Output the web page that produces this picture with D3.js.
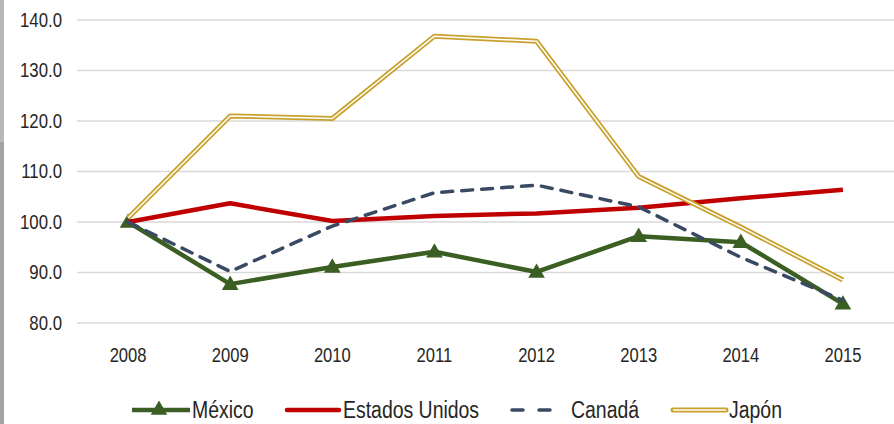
<!DOCTYPE html>
<html lang="es">
  <head>
    <meta charset="UTF-8" />
    <title>Indice 2008-2015</title>
    <script src="https://d3js.org/d3.v7.min.js"></script>
    <style>
      body { margin: 0; background: #fff; }
      svg { display: block; }
      text { font-family: "Liberation Sans", Arial, sans-serif; fill: #262626; }
    </style>
  </head>
  <body>
    <div id="chart"></div>

  <script>
    // data (2008 = 100)
    const years = ["2008", "2009", "2010", "2011", "2012", "2013", "2014", "2015"];
    const mexico = [100.0, 87.7, 91.1, 94.1, 90.1, 97.2, 96.0, 83.8];
    const usa = [100.0, 103.7, 100.2, 101.2, 101.7, 102.8, 104.7, 106.4];
    const canada = [100.0, 90.2, 99.2, 105.8, 107.3, 103.0, 93.0, 84.5];
    const japon = [100.8, 121.0, 120.5, 136.8, 135.8, 109.0, 99.0, 88.5];
    const yTicks = [80, 90, 100, 110, 120, 130, 140];

    const W = 894, H = 424;

    const svg = d3.select("#chart")
      .append("svg")
      .attr("width", W)
      .attr("height", H);

    // grey strip on the left edge
    svg.append("rect").attr("x", 0).attr("y", 0).attr("width", 4).attr("height", 142).attr("fill", "#b8b8b8");
    svg.append("rect").attr("x", 0).attr("y", 142).attr("width", 4).attr("height", H - 142).attr("fill", "#a3a3a3");

    const x = d3.scaleBand().domain(years).range([77, 894]);
    const y = d3.scaleLinear().domain([80, 140]).range([323, 20]);
    const cx = d => x(d) + x.bandwidth() / 2;

    // text is squeezed horizontally to look like the narrow face of the original
    function place(tx, ty, k) {
      return "translate(" + tx + "," + ty + ") scale(" + k + ",1)";
    }

    // gridlines
    svg.append("g")
      .selectAll("line")
      .data(yTicks)
      .join("line")
      .attr("x1", 77)
      .attr("x2", 894)
      .attr("y1", d => y(d))
      .attr("y2", d => y(d))
      .attr("stroke", "#d9d9d9")
      .attr("stroke-width", 1.5);

    // y labels
    svg.append("g")
      .selectAll("text")
      .data(yTicks)
      .join("text")
      .attr("transform", d => place(62, y(d) + 6.5, 0.84))
      .attr("text-anchor", "end")
      .style("font-size", "20px")
      .text(d => d.toFixed(1));

    // x labels
    svg.append("g")
      .selectAll("text")
      .data(years)
      .join("text")
      .attr("transform", d => place(cx(d), 362, 0.79))
      .attr("text-anchor", "middle")
      .style("font-size", "21px")
      .text(d => d);

    function series(vals) {
      return years.map((yr, i) => [yr, vals[i]]);
    }

    const line = d3.line()
      .x(d => cx(d[0]))
      .y(d => y(d[1]));

    const tri = d3.symbol().type(d3.symbolTriangle).size(120);

    // Mexico
    svg.append("path")
      .datum(series(mexico))
      .attr("d", line)
      .attr("fill", "none")
      .attr("stroke", "#3b5e22")
      .attr("stroke-width", 4.5)
      .attr("stroke-linejoin", "round");

    svg.append("g")
      .selectAll("path")
      .data(series(mexico))
      .join("path")
      .attr("d", tri)
      .attr("transform", d => "translate(" + cx(d[0]) + "," + (y(d[1]) + 1) + ")")
      .attr("fill", "#3b5e22");

    // Estados Unidos
    svg.append("path")
      .datum(series(usa))
      .attr("d", line)
      .attr("fill", "none")
      .attr("stroke", "#c00000")
      .attr("stroke-width", 4.5)
      .attr("stroke-linejoin", "round");

    // Canada
    svg.append("path")
      .datum(series(canada))
      .attr("d", line)
      .attr("fill", "none")
      .attr("stroke", "#3a4a63")
      .attr("stroke-width", 3.5)
      .attr("stroke-dasharray", "11,9")
      .attr("stroke-linecap", "round")
      .attr("stroke-linejoin", "round");

    // Japon: double line
    svg.append("path")
      .datum(series(japon))
      .attr("d", line)
      .attr("fill", "none")
      .attr("stroke", "#c9a12c")
      .attr("stroke-width", 5)
      .attr("stroke-linejoin", "round");
    svg.append("path")
      .datum(series(japon))
      .attr("d", line)
      .attr("fill", "none")
      .attr("stroke", "#fff")
      .attr("stroke-width", 1.5)
      .attr("stroke-linejoin", "round");

    // legend
    const ly = 410;
    const tb = 418; // legend text baseline
    const lk = 0.81;
    const leg = svg.append("g");

    leg.append("line").attr("x1", 132).attr("x2", 190).attr("y1", ly).attr("y2", ly)
      .attr("stroke", "#3b5e22").attr("stroke-width", 4.5);
    leg.append("path").attr("d", tri).attr("transform", "translate(159," + ly + ")").attr("fill", "#3b5e22");
    leg.append("text").attr("transform", place(192, tb, lk)).style("font-size", "24px").text("México");

    leg.append("line").attr("x1", 287).attr("x2", 339).attr("y1", ly).attr("y2", ly)
      .attr("stroke", "#c00000").attr("stroke-width", 4.5).attr("stroke-linecap", "round");
    leg.append("text").attr("transform", place(343, tb, lk)).style("font-size", "24px").text("Estados Unidos");

    leg.append("line").attr("x1", 512).attr("x2", 553).attr("y1", ly).attr("y2", ly)
      .attr("stroke", "#3a4a63").attr("stroke-width", 3.5).attr("stroke-linecap", "round")
      .attr("stroke-dasharray", "11,16");
    leg.append("text").attr("transform", place(571, tb, lk)).style("font-size", "24px").text("Canadá");

    leg.append("line").attr("x1", 673).attr("x2", 726).attr("y1", ly).attr("y2", ly)
      .attr("stroke", "#c9a12c").attr("stroke-width", 5).attr("stroke-linecap", "round");
    leg.append("line").attr("x1", 673).attr("x2", 726).attr("y1", ly).attr("y2", ly)
      .attr("stroke", "#fff").attr("stroke-width", 1.5);
    leg.append("text").attr("transform", place(729, tb, lk)).style("font-size", "24px").text("Japón");
  </script>
  </body>
</html>
